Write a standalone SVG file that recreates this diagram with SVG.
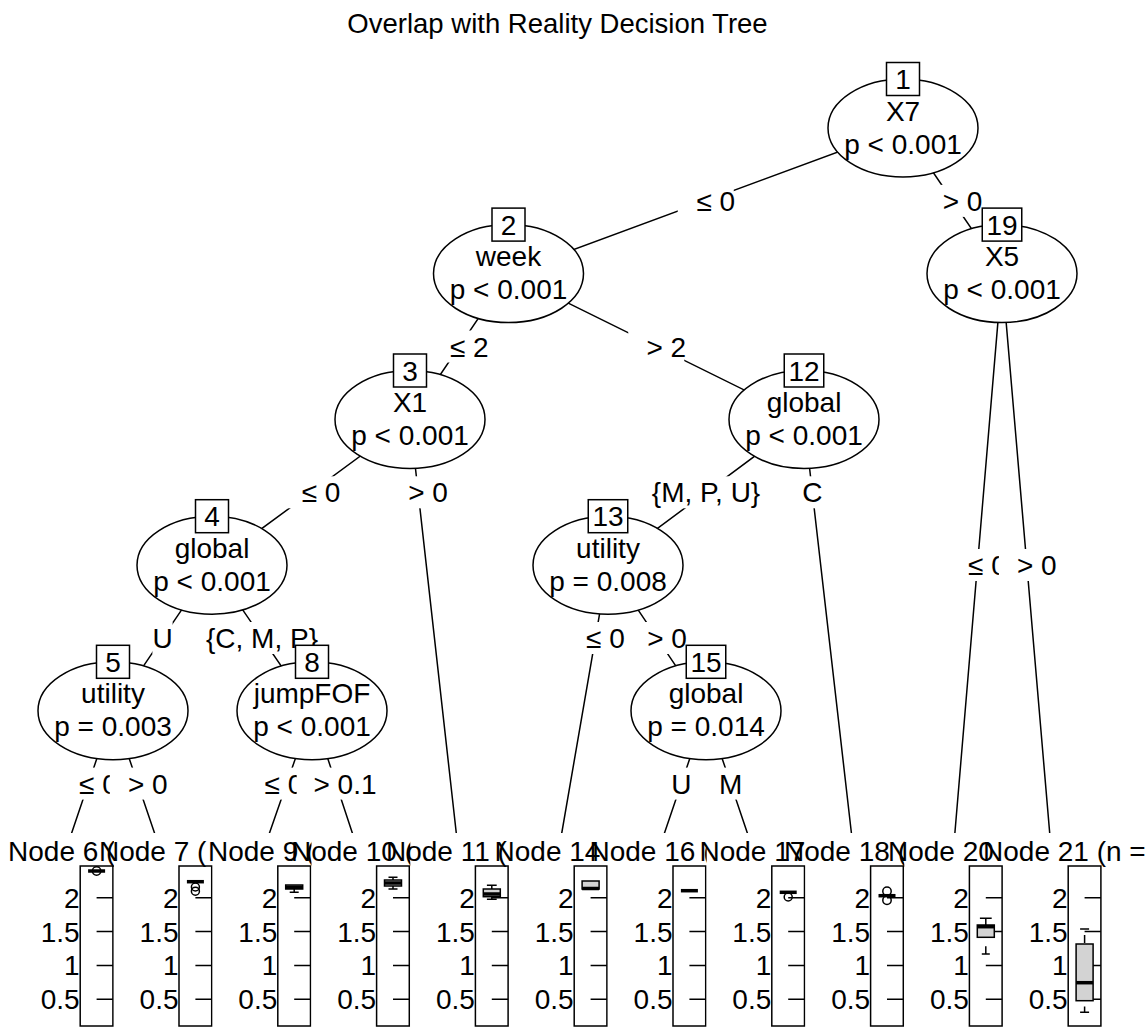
<svg xmlns="http://www.w3.org/2000/svg" width="1147" height="1027" viewBox="0 0 1147 1027">
<style>
text{font-family:"Liberation Sans",Arial,Helvetica,sans-serif;font-size:28px;fill:#000}
.t{font-size:27.5px;text-anchor:middle}
.m{text-anchor:middle}
.ax{text-anchor:end}
.ln{stroke:#000;stroke-width:1.5;fill:none}
.el{stroke:#000;stroke-width:1.5;fill:#fff}
.nb{stroke:#000;stroke-width:1.5;fill:#fff}
.bg{fill:#fff;stroke:none}
.pn{stroke:#000;stroke-width:1.5;fill:none}
.bx{stroke:#000;stroke-width:1.5;fill:#d3d3d3}
.md{stroke:#000;stroke-width:3.5;fill:none}
.ol{stroke:#000;stroke-width:1.5;fill:none}
</style>
<rect width="1147" height="1027" fill="#fff"/>
<text class="t" x="557.5" y="32.5">Overlap with Reality Decision Tree</text>
<g id="connectors">
<path class="ln" d="M903 128L508.5 273.6M903 128L1002 273.6M508.5 273.6L410 419.5M508.5 273.6L804 419.5M410 419.5L212 565.2M410 419.5L458.9 856.5M212 565.2L113 710.8M212 565.2L312 710.8M113 710.8L63.7 856.5M113 710.8L162.5 856.5M312 710.8L261.3 856.5M312 710.8L360.1 856.5M804 419.5L608 565.2M804 419.5L854.1 856.5M608 565.2L557.7 856.5M608 565.2L706 710.8M706 710.8L656.5 856.5M706 710.8L755.3 856.5M1002 273.6L952.9 856.5M1002 273.6L1051.7 856.5"/>
<g id="lab-1-2"><rect class="bg" x="677.75" y="184.9" width="56" height="32"/><text class="m" x="715.75" y="210.9">≤ 0</text></g>
<g id="lab-1-19"><rect class="bg" x="924.5" y="184.9" width="56" height="32"/><text class="m" x="962.5" y="210.9">&gt; 0</text></g>
<g id="lab-2-3"><rect class="bg" x="431.25" y="330.5" width="56" height="32"/><text class="m" x="469.25" y="356.5">≤ 2</text></g>
<g id="lab-2-12"><rect class="bg" x="628.25" y="330.5" width="56" height="32"/><text class="m" x="666.25" y="356.5">&gt; 2</text></g>
<g id="lab-3-4"><rect class="bg" x="283" y="476.3" width="56" height="32"/><text class="m" x="321" y="502.3">≤ 0</text></g>
<g id="lab-3-11"><rect class="bg" x="390.1" y="476.3" width="56" height="32"/><text class="m" x="428.1" y="502.3">&gt; 0</text></g>
<g id="lab-4-5"><rect class="bg" x="152.4" y="622" width="20.2" height="32"/><text class="m" x="162.5" y="648">U</text></g>
<g id="lab-4-8"><rect class="bg" x="206" y="622" width="112" height="32"/><text class="m" x="262" y="648">{C, M, P}</text></g>
<g id="lab-5-6"><rect class="bg" x="60.35" y="767.6" width="56" height="32"/><text class="m" x="98.35" y="793.6">≤ 0</text></g>
<g id="lab-5-7"><rect class="bg" x="109.75" y="767.6" width="56" height="32"/><text class="m" x="147.75" y="793.6">&gt; 0</text></g>
<g id="lab-8-9"><rect class="bg" x="247.35" y="767.6" width="78.6" height="32"/><text class="m" x="295.65" y="793.6">≤ 0.1</text></g>
<g id="lab-8-10"><rect class="bg" x="296.7" y="767.6" width="78.6" height="32"/><text class="m" x="345" y="793.6">&gt; 0.1</text></g>
<g id="lab-12-13"><rect class="bg" x="650" y="476.3" width="112" height="32"/><text class="m" x="706" y="502.3">{M, P, U}</text></g>
<g id="lab-12-18"><rect class="bg" x="802.2" y="476.3" width="20.2" height="32"/><text class="m" x="812.3" y="502.3">C</text></g>
<g id="lab-13-14"><rect class="bg" x="567.4" y="622" width="56" height="32"/><text class="m" x="605.4" y="648">≤ 0</text></g>
<g id="lab-13-15"><rect class="bg" x="629" y="622" width="56" height="32"/><text class="m" x="667" y="648">&gt; 0</text></g>
<g id="lab-15-16"><rect class="bg" x="671.15" y="767.6" width="20.2" height="32"/><text class="m" x="681.25" y="793.6">U</text></g>
<g id="lab-15-17"><rect class="bg" x="719" y="767.6" width="23.3" height="32"/><text class="m" x="730.65" y="793.6">M</text></g>
<g id="lab-19-20"><rect class="bg" x="949.45" y="549" width="56" height="32"/><text class="m" x="987.45" y="575">≤ 0</text></g>
<g id="lab-19-21"><rect class="bg" x="998.85" y="549" width="56" height="32"/><text class="m" x="1036.85" y="575">&gt; 0</text></g>
</g>
<g id="node1"><ellipse class="el" cx="903" cy="128" rx="75" ry="49"/><text class="m" x="903" y="120.5">X7</text><text class="m" x="903" y="153.5">p &lt; 0.001</text><rect class="nb" x="886.5" y="62.5" width="33" height="33"/><text class="m" x="903" y="89">1</text></g>
<g id="node2"><ellipse class="el" cx="508.5" cy="273.6" rx="75" ry="49"/><text class="m" x="508.5" y="266.1">week</text><text class="m" x="508.5" y="299.1">p &lt; 0.001</text><rect class="nb" x="492" y="208.1" width="33" height="33"/><text class="m" x="508.5" y="234.6">2</text></g>
<g id="node19"><ellipse class="el" cx="1002" cy="273.6" rx="75" ry="49"/><text class="m" x="1002" y="266.1">X5</text><text class="m" x="1002" y="299.1">p &lt; 0.001</text><rect class="nb" x="982.25" y="208.1" width="39.5" height="33"/><text class="m" x="1002" y="234.6">19</text></g>
<g id="node3"><ellipse class="el" cx="410" cy="419.5" rx="75" ry="49"/><text class="m" x="410" y="412">X1</text><text class="m" x="410" y="445">p &lt; 0.001</text><rect class="nb" x="393.5" y="354" width="33" height="33"/><text class="m" x="410" y="380.5">3</text></g>
<g id="node12"><ellipse class="el" cx="804" cy="419.5" rx="75" ry="49"/><text class="m" x="804" y="412">global</text><text class="m" x="804" y="445">p &lt; 0.001</text><rect class="nb" x="784.25" y="354" width="39.5" height="33"/><text class="m" x="804" y="380.5">12</text></g>
<g id="node4"><ellipse class="el" cx="212" cy="565.2" rx="75" ry="49"/><text class="m" x="212" y="557.7">global</text><text class="m" x="212" y="590.7">p &lt; 0.001</text><rect class="nb" x="195.5" y="499.7" width="33" height="33"/><text class="m" x="212" y="526.2">4</text></g>
<g id="node13"><ellipse class="el" cx="608" cy="565.2" rx="75" ry="49"/><text class="m" x="608" y="557.7">utility</text><text class="m" x="608" y="590.7">p = 0.008</text><rect class="nb" x="588.25" y="499.7" width="39.5" height="33"/><text class="m" x="608" y="526.2">13</text></g>
<g id="node5"><ellipse class="el" cx="113" cy="710.8" rx="75" ry="49"/><text class="m" x="113" y="703.3">utility</text><text class="m" x="113" y="736.3">p = 0.003</text><rect class="nb" x="96.5" y="645.3" width="33" height="33"/><text class="m" x="113" y="671.8">5</text></g>
<g id="node8"><ellipse class="el" cx="312" cy="710.8" rx="75" ry="49"/><text class="m" x="312" y="703.3">jumpFOF</text><text class="m" x="312" y="736.3">p &lt; 0.001</text><rect class="nb" x="295.5" y="645.3" width="33" height="33"/><text class="m" x="312" y="671.8">8</text></g>
<g id="node15"><ellipse class="el" cx="706" cy="710.8" rx="75" ry="49"/><text class="m" x="706" y="703.3">global</text><text class="m" x="706" y="736.3">p = 0.014</text><rect class="nb" x="686.25" y="645.3" width="39.5" height="33"/><text class="m" x="706" y="671.8">15</text></g>
<g id="node6" transform="translate(63.7,0)"><rect class="bg" x="-48.6" y="833" width="97.8" height="194"/><text x="-55.7" y="861">Node 6 (</text><rect class="pn" x="16.5" y="866" width="32.7" height="160"/><path class="ln" d="M32.9 897.7H49.2M32.9 931.6H49.2M32.9 965.4H49.2M32.9 999.3H49.2"/><text class="ax" x="16" y="907.7">2</text><text class="ax" x="16" y="941.6">1.5</text><text class="ax" x="16" y="975.4">1</text><text class="ax" x="16" y="1009.3">0.5</text><path class="md" d="M24.4 871H41.4"/><circle class="ol" cx="32.9" cy="871" r="4.2"/></g>
<g id="node7" transform="translate(162.5,0)"><rect class="bg" x="-48.6" y="833" width="97.8" height="194"/><text x="-63.5" y="861">Node 7 (</text><rect class="pn" x="16.5" y="866" width="32.7" height="160"/><path class="ln" d="M32.9 897.7H49.2M32.9 931.6H49.2M32.9 965.4H49.2M32.9 999.3H49.2"/><text class="ax" x="16" y="907.7">2</text><text class="ax" x="16" y="941.6">1.5</text><text class="ax" x="16" y="975.4">1</text><text class="ax" x="16" y="1009.3">0.5</text><path class="md" d="M24.4 881.7H41.4"/><circle class="ol" cx="32.9" cy="887" r="4"/><circle class="ol" cx="32.9" cy="891.2" r="4"/></g>
<g id="node9" transform="translate(261.3,0)"><rect class="bg" x="-48.6" y="833" width="97.8" height="194"/><text x="-53.3" y="861">Node 9 (</text><rect class="pn" x="16.5" y="866" width="32.7" height="160"/><path class="ln" d="M32.9 897.7H49.2M32.9 931.6H49.2M32.9 965.4H49.2M32.9 999.3H49.2"/><text class="ax" x="16" y="907.7">2</text><text class="ax" x="16" y="941.6">1.5</text><text class="ax" x="16" y="975.4">1</text><text class="ax" x="16" y="1009.3">0.5</text><path class="ln" d="M32.9 889V892.3M28.4 892.3H37.4"/><rect class="bx" x="24.4" y="885" width="17" height="4"/><path class="md" d="M24.4 887.3H41.4"/></g>
<g id="node10" transform="translate(360.1,0)"><rect class="bg" x="-48.6" y="833" width="97.8" height="194"/><text x="-69.1" y="861">Node 10 (</text><rect class="pn" x="16.5" y="866" width="32.7" height="160"/><path class="ln" d="M32.9 897.7H49.2M32.9 931.6H49.2M32.9 965.4H49.2M32.9 999.3H49.2"/><text class="ax" x="16" y="907.7">2</text><text class="ax" x="16" y="941.6">1.5</text><text class="ax" x="16" y="975.4">1</text><text class="ax" x="16" y="1009.3">0.5</text><path class="ln" d="M32.9 880V877.3M28.4 877.3H37.4M32.9 886V889M28.4 889H37.4"/><rect class="bx" x="24.4" y="880" width="17" height="6"/><path class="md" d="M24.4 883H41.4"/></g>
<g id="node11" transform="translate(458.9,0)"><rect class="bg" x="-48.6" y="833" width="97.8" height="194"/><text x="-72.9" y="861">Node 11 (</text><rect class="pn" x="16.5" y="866" width="32.7" height="160"/><path class="ln" d="M32.9 897.7H49.2M32.9 931.6H49.2M32.9 965.4H49.2M32.9 999.3H49.2"/><text class="ax" x="16" y="907.7">2</text><text class="ax" x="16" y="941.6">1.5</text><text class="ax" x="16" y="975.4">1</text><text class="ax" x="16" y="1009.3">0.5</text><path class="ln" d="M32.9 889V885.2M28 885.2H37.8M32.9 896.7V899.2M28 899.2H37.8"/><rect class="bx" x="24.4" y="889" width="17" height="7.7"/><path class="md" d="M24.4 894H41.4"/></g>
<g id="node14" transform="translate(557.7,0)"><rect class="bg" x="-48.6" y="833" width="97.8" height="194"/><text x="-63.2" y="861">Node 14 (</text><rect class="pn" x="16.5" y="866" width="32.7" height="160"/><path class="ln" d="M32.9 897.7H49.2M32.9 931.6H49.2M32.9 965.4H49.2M32.9 999.3H49.2"/><text class="ax" x="16" y="907.7">2</text><text class="ax" x="16" y="941.6">1.5</text><text class="ax" x="16" y="975.4">1</text><text class="ax" x="16" y="1009.3">0.5</text><rect class="bx" x="24.4" y="881" width="17" height="8"/><path class="md" d="M24.4 888.5H41.4"/></g>
<g id="node16" transform="translate(656.5,0)"><rect class="bg" x="-48.6" y="833" width="97.8" height="194"/><text x="-67" y="861">Node 16 (</text><rect class="pn" x="16.5" y="866" width="32.7" height="160"/><path class="ln" d="M32.9 897.7H49.2M32.9 931.6H49.2M32.9 965.4H49.2M32.9 999.3H49.2"/><text class="ax" x="16" y="907.7">2</text><text class="ax" x="16" y="941.6">1.5</text><text class="ax" x="16" y="975.4">1</text><text class="ax" x="16" y="1009.3">0.5</text><path class="md" d="M24.4 890.7H41.4"/></g>
<g id="node17" transform="translate(755.3,0)"><rect class="bg" x="-48.6" y="833" width="97.8" height="194"/><text x="-55.8" y="861">Node 17 (</text><rect class="pn" x="16.5" y="866" width="32.7" height="160"/><path class="ln" d="M32.9 897.7H49.2M32.9 931.6H49.2M32.9 965.4H49.2M32.9 999.3H49.2"/><text class="ax" x="16" y="907.7">2</text><text class="ax" x="16" y="941.6">1.5</text><text class="ax" x="16" y="975.4">1</text><text class="ax" x="16" y="1009.3">0.5</text><path class="md" d="M24.4 892.3H41.4"/><circle class="ol" cx="32.9" cy="897" r="4"/></g>
<g id="node18" transform="translate(854.1,0)"><rect class="bg" x="-48.6" y="833" width="97.8" height="194"/><text x="-70.1" y="861">Node 18 (</text><rect class="pn" x="16.5" y="866" width="32.7" height="160"/><path class="ln" d="M32.9 897.7H49.2M32.9 931.6H49.2M32.9 965.4H49.2M32.9 999.3H49.2"/><text class="ax" x="16" y="907.7">2</text><text class="ax" x="16" y="941.6">1.5</text><text class="ax" x="16" y="975.4">1</text><text class="ax" x="16" y="1009.3">0.5</text><path class="md" d="M24.4 895.7H41.4"/><circle class="ol" cx="32.9" cy="891.2" r="4.2"/><circle class="ol" cx="32.9" cy="900.2" r="4.2"/></g>
<g id="node20" transform="translate(952.9,0)"><rect class="bg" x="-48.6" y="833" width="97.8" height="194"/><text x="-64.9" y="861">Node 20 (</text><rect class="pn" x="16.5" y="866" width="32.7" height="160"/><path class="ln" d="M32.9 897.7H49.2M32.9 931.6H49.2M32.9 965.4H49.2M32.9 999.3H49.2"/><text class="ax" x="16" y="907.7">2</text><text class="ax" x="16" y="941.6">1.5</text><text class="ax" x="16" y="975.4">1</text><text class="ax" x="16" y="1009.3">0.5</text><path class="ln" d="M32.9 925V918.3M27 918.3H38.8M32.9 946.3V954M28.9 954H36.9"/><rect class="bx" x="24.4" y="925" width="17" height="12.3"/><path class="md" d="M24.4 926.7H41.4"/></g>
<g id="node21" transform="translate(1051.7,0)"><rect class="bg" x="-48.6" y="833" width="97.8" height="194"/><text x="-68.7" y="861">Node 21 (n =</text><rect class="pn" x="16.5" y="866" width="32.7" height="160"/><path class="ln" d="M32.9 897.7H49.2M32.9 931.6H49.2M32.9 965.4H49.2M32.9 999.3H49.2"/><text class="ax" x="16" y="907.7">2</text><text class="ax" x="16" y="941.6">1.5</text><text class="ax" x="16" y="975.4">1</text><text class="ax" x="16" y="1009.3">0.5</text><path class="ln" d="M28.4 929H37.4M32.9 935V943M32.9 1006.5V1012.3M28.4 1012.3H37.4"/><rect class="bx" x="24.4" y="944" width="17" height="56.7"/><path class="md" d="M24.4 982.7H41.4"/></g>
</svg>
